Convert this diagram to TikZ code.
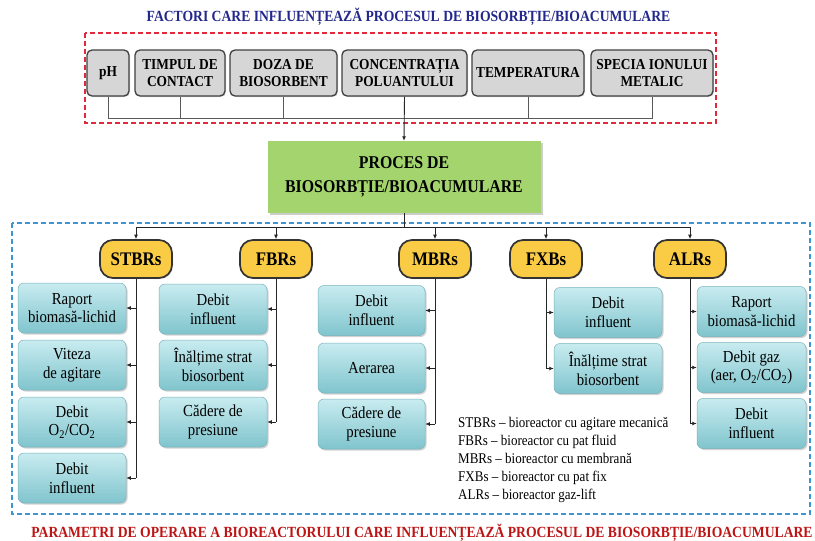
\documentclass[tikz,border=0pt]{standalone}
\usepackage{fontspec}
\setmainfont{Liberation Serif}[FakeStretch=0.88]
\usetikzlibrary{arrows.meta,shadows}
\definecolor{navyT}{RGB}{35,40,140}
\definecolor{redT}{RGB}{190,20,20}
\definecolor{redD}{RGB}{228,40,60}
\definecolor{blueD}{RGB}{60,150,210}
\definecolor{greenP}{RGB}{164,212,110}
\definecolor{goldR}{RGB}{250,204,70}
\definecolor{tealT}{RGB}{200,236,240}
\definecolor{tealB}{RGB}{128,196,205}
\definecolor{tealE}{RGB}{120,178,188}
\definecolor{grayF}{RGB}{214,214,214}
\begin{document}
\begin{tikzpicture}[x=1pt,y=-1pt,
  factor/.style={draw=black!75, line width=1.3pt, rounded corners=5pt, fill=grayF,
    minimum height=46pt, inner sep=0pt, align=center,
    font=\fontsize{15.2}{16.8}\selectfont\bfseries,
    drop shadow={shadow xshift=1pt,shadow yshift=-1pt,opacity=0.3}},
  proc/.style={fill=greenP, minimum width=273pt, minimum height=72pt, inner sep=0pt,
    align=center, font=\fontsize{18}{23.5}\selectfont\bfseries,
    drop shadow={shadow xshift=2pt,shadow yshift=-2pt,opacity=0.4}},
  reac/.style={draw=black!80, line width=1.7pt, fill=goldR, rounded corners=13pt,
    minimum width=72pt, minimum height=38pt, inner sep=0pt,
    font=\fontsize{19.2}{20}\selectfont\bfseries,
    drop shadow={shadow xshift=1pt,shadow yshift=-1pt,opacity=0.3}},
  param/.style={draw=tealE, line width=0.5pt, rounded corners=6pt,
    top color=tealT, bottom color=tealB, minimum width=108pt, minimum height=50pt,
    inner sep=0pt, align=center, font=\fontsize{16.8}{18.8}\selectfont,
    drop shadow={shadow xshift=1.5pt,shadow yshift=-1.5pt,opacity=0.35}},
  bus/.style={draw=black!65, line width=0.9pt},
  conn/.style={draw=black!85, line width=0.9pt},
  arr/.style={conn, -{Latex[length=4.5pt,width=4pt]}},
  ttl/.style={inner sep=0pt, font=\fontsize{15.5}{17}\selectfont\bfseries}
]
\useasboundingbox (0,0) rectangle (815,541);
\fill[white] (0,0) rectangle (815,541);

% titles
\node[ttl, text=navyT] (t1) at (408.5,17) {FACTORI CARE INFLUENȚEAZĂ PROCESUL DE BIOSORBȚIE/BIOACUMULARE};
\node[ttl, text=redT] (t2) at (422,533) {PARAMETRI DE OPERARE A BIOREACTORULUI CARE INFLUENȚEAZĂ PROCESUL DE BIOSORBȚIE/BIOACUMULARE};

% frames
\draw[redD, line width=1.3pt, dash pattern=on 5pt off 3pt] (85,33) rectangle (716,123);
\draw[blueD, line width=1.3pt, dash pattern=on 5pt off 3pt] (12,223) rectangle (810,514);

% factors
\node[factor, minimum width=42pt] (ph) at (108,73) {pH};
\node[factor, minimum width=90pt] (tc) at (180,73) {TIMPUL DE\\CONTACT};
\node[factor, minimum width=107pt] (dz) at (283.5,73) {DOZA DE\\BIOSORBENT};
\node[factor, minimum width=125pt] (cp) at (404.5,73) {CONCENTRAȚIA\\POLUANTULUI};
\node[factor, minimum width=112pt] (tp) at (528,73) {TEMPERATURA};
\node[factor, minimum width=122pt] (sm) at (652,73) {SPECIA IONULUI\\METALIC};

\coordinate (fb) at (0,118);
\draw[bus] (ph.south) -- (ph.south |- fb) -- (sm.south |- fb) -- (sm.south);
\foreach \n in {tc,dz,tp} \draw[bus] (\n.south) -- (\n.south |- fb);

% process
\node[proc] (pr) at (404,177) {PROCES DE\\BIOSORBȚIE/BIOACUMULARE};
\draw[arr] (cp.south) -- (pr.north);

% reactors
\node[reac] (r1) at (136,259) {STBRs};
\node[reac] (r2) at (276,259) {FBRs};
\node[reac] (r3) at (435,259) {MBRs};
\node[reac] (r4) at (546,259) {FXBs};
\node[reac] (r5) at (690,259) {ALRs};
\coordinate (rb) at (0,227);
\draw[conn] (pr.south) -- (pr.south |- rb);
\draw[conn] (r1.north |- rb) -- (r5.north |- rb);
\foreach \r in {r1,r2,r3,r4,r5} \draw[arr] (\r.north |- rb) -- (\r.north);

% STBRs parameters
\node[param] (s1) at (72,308) {Raport\\biomasă-lichid};
\node[param] (s2) at (72,365) {Viteza\\de agitare};
\node[param] (s3) at (72,422) {Debit\\O\textsubscript{2}/CO\textsubscript{2}};
\node[param] (s4) at (72,478) {Debit\\influent};
\draw[conn] (r1.south) -- (r1.south |- s4.east);
\foreach \b in {s1,s2,s3,s4} \draw[arr] (r1.south |- \b.east) -- (\b.east);

% FBRs parameters
\node[param] (f1) at (213,309) {Debit\\influent};
\node[param] (f2) at (213,365) {Înălțime strat\\biosorbent};
\node[param] (f3) at (213,422) {Cădere de\\presiune};
\draw[conn] (r2.south) -- (r2.south |- f3.east);
\foreach \b in {f1,f2,f3} \draw[arr] (r2.south |- \b.east) -- (\b.east);

% MBRs parameters
\node[param, minimum width=107pt] (m1) at (371.5,310.5) {Debit\\influent};
\node[param, minimum width=107pt] (m2) at (371.5,368) {Aerarea};
\node[param, minimum width=107pt] (m3) at (371.5,424) {Cădere de\\presiune};
\draw[conn] (r3.south) -- (r3.south |- m3.east);
\foreach \b in {m1,m2,m3} \draw[arr] (r3.south |- \b.east) -- (\b.east);

% FXBs parameters
\node[param] (x1) at (608,312.5) {Debit\\influent};
\node[param] (x2) at (608,368.5) {Înălțime strat\\biosorbent};
\draw[conn] (r4.south) -- (r4.south |- x2.west);
\foreach \b in {x1,x2} \draw[arr] (r4.south |- \b.west) -- (\b.west);

% ALRs parameters
\node[param, minimum width=109pt] (a1) at (751.5,311.5) {Raport\\biomasă-lichid};
\node[param, minimum width=109pt] (a2) at (751.5,367.5) {Debit gaz\\(aer, O\textsubscript{2}/CO\textsubscript{2})};
\node[param, minimum width=109pt] (a3) at (751.5,423.5) {Debit\\influent};
\draw[conn] (r5.south) -- (r5.south |- a3.west);
\foreach \b in {a1,a2,a3} \draw[arr] (r5.south |- \b.west) -- (\b.west);

% legend
\node[anchor=north west, inner sep=0pt, align=left, font=\fontsize{14.8}{18}\selectfont] (lg) at (458,417.5)
 {STBRs – bioreactor cu agitare mecanică\\
  FBRs – bioreactor cu pat fluid\\
  MBRs – bioreactor cu membrană\\
  FXBs – bioreactor cu pat fix\\
  ALRs – bioreactor gaz-lift};
\end{tikzpicture}
\end{document}
